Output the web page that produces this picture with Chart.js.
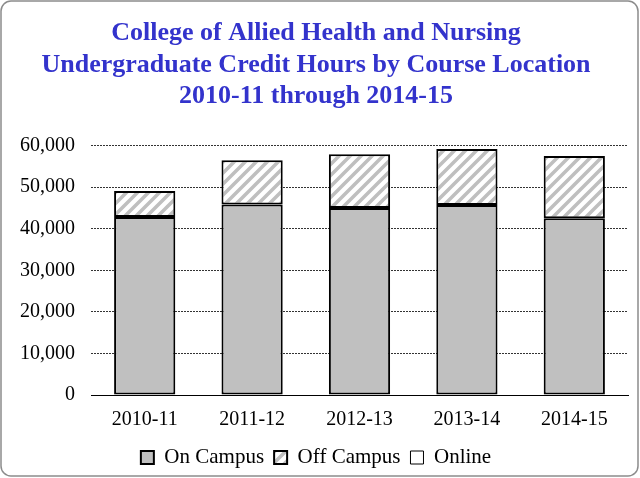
<!DOCTYPE html>
<html>
<head>
<meta charset="utf-8">
<script src="https://cdn.jsdelivr.net/npm/chart.js@4"></script>
<style>
  body { margin: 0; background: #fff; }
  #wrap { width: 640px; height: 478px; }
</style>
</head>
<body>
<div id="wrap"><canvas id="barChart" width="640" height="478"></canvas></div>
<script>
// Chart data
var years = ["2010-11", "2011-12", "2012-13", "2013-14", "2014-15"];
var onCampus = [42800, 45800, 45000, 45700, 42500];
var offCampus = [6300, 10700, 12900, 13500, 15000];
var online = [0, 0, 0, 0, 0];
var titleLines = [
    "College of Allied Health and Nursing",
    "Undergraduate Credit Hours by Course Location",
    "2010-11 through 2014-15"
];

// diagonal hatch for the off campus bars
function makeHatch() {
    var c = document.createElement("canvas");
    c.width = 11;
    c.height = 11;
    var g = c.getContext("2d");
    g.fillStyle = "#fff";
    g.fillRect(0, 0, 11, 11);
    g.strokeStyle = "#bfbfbf";
    g.lineWidth = 3.5;
    g.beginPath();
    g.moveTo(-3, 14); g.lineTo(14, -3);
    g.moveTo(-14, 14); g.lineTo(3, -3);
    g.moveTo(8, 14); g.lineTo(25, -3);
    g.stroke();
    return g.createPattern(c, "repeat");
}

// rounded frame round the whole picture
var framePlugin = {
    id: "frame",
    afterDraw: function (chart) {
        var ctx = chart.ctx;
        ctx.save();
        ctx.strokeStyle = "#8c8c8c";
        ctx.lineWidth = 1.5;
        ctx.beginPath();
        ctx.roundRect(1, 1, 637, 475, 10);
        ctx.stroke();
        ctx.restore();
    }
};

document.addEventListener("DOMContentLoaded", function () {
    var ctx = document.getElementById("barChart").getContext("2d");
    var hatch = makeHatch();

    new Chart(ctx, {
        type: "bar",
        data: {
            labels: years,
            datasets: [
                {
                    label: "On Campus",
                    data: onCampus,
                    backgroundColor: "#c0c0c0",
                    borderColor: "#000",
                    borderWidth: 2,
                    borderSkipped: false,
                    categoryPercentage: 0.57,
                    barPercentage: 1
                },
                {
                    label: "Off Campus",
                    data: offCampus,
                    backgroundColor: hatch,
                    borderColor: "#000",
                    borderWidth: 2,
                    borderSkipped: false,
                    categoryPercentage: 0.57,
                    barPercentage: 1
                },
                {
                    label: "Online",
                    data: online,
                    backgroundColor: "#fff",
                    borderColor: "#000",
                    borderWidth: 1,
                    borderSkipped: false,
                    categoryPercentage: 0.57,
                    barPercentage: 1
                }
            ]
        },
        options: {
            responsive: false,
            animation: false,
            devicePixelRatio: 1,
            layout: { padding: { left: 4, right: 12, top: 4, bottom: 0 } },
            scales: {
                x: {
                    stacked: true,
                    grid: { display: false },
                    border: { color: "#000", width: 1 },
                    ticks: {
                        color: "#000",
                        padding: 5,
                        font: { family: "Liberation Serif", size: 20 }
                    }
                },
                y: {
                    stacked: true,
                    min: 0,
                    max: 60000,
                    border: { display: false, dash: [2, 1] },
                    grid: { color: "#333", lineWidth: 1, drawTicks: false, tickLength: 0 },
                    ticks: {
                        stepSize: 10000,
                        color: "#000",
                        padding: 16,
                        font: { family: "Liberation Serif", size: 20 },
                        callback: function (v) { return v.toLocaleString("en-US"); }
                    }
                }
            },
            plugins: {
                title: {
                    display: true,
                    text: titleLines,
                    color: "#3333cc",
                    padding: { top: 14, bottom: 34 },
                    lineHeight: 1.33,
                    font: { family: "Liberation Serif", size: 26, weight: "bold" }
                },
                legend: {
                    position: "bottom",
                    labels: {
                        color: "#000",
                        boxWidth: 13,
                        boxHeight: 13,
                        padding: 10,
                        font: { family: "Liberation Serif", size: 21 }
                    }
                },
                tooltip: { enabled: false }
            }
        },
        plugins: [framePlugin]
    });
});
</script>
</body>
</html>
